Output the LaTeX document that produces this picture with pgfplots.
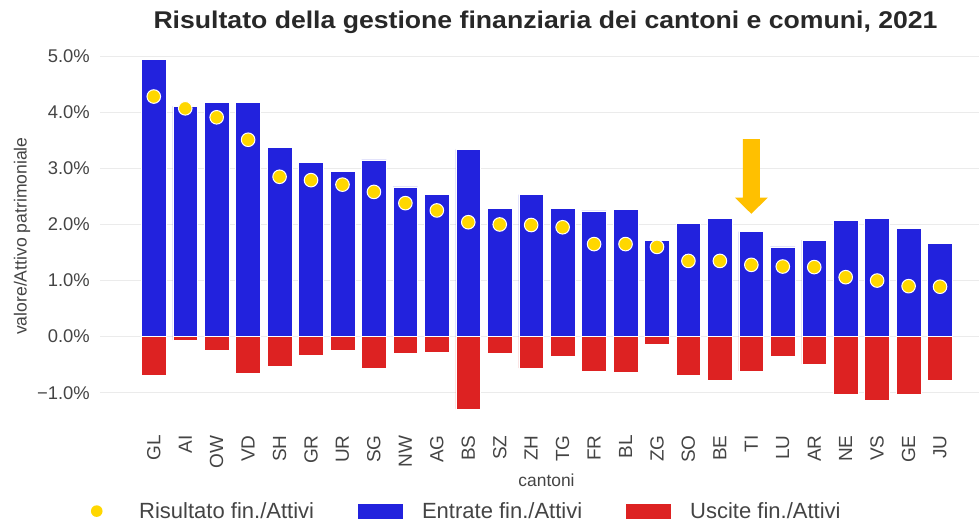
\documentclass[border=0pt]{standalone}
\usepackage{pgfplots}
\pgfplotsset{compat=1.18}
\usepackage{fontspec}
\setmainfont{Liberation Sans}
\newfontfamily\titlefont[FakeStretch=1.1]{Liberation Sans}

\definecolor{barblue}{RGB}{34,34,221}
\definecolor{barred}{RGB}{221,34,34}
\definecolor{dotyellow}{RGB}{255,215,0}
\definecolor{arrowamber}{RGB}{255,192,0}
\definecolor{gridgray}{RGB}{235,235,235}
\definecolor{txtgray}{RGB}{68,68,68}
\definecolor{titlegray}{RGB}{40,40,40}

% values in percent of assets
\pgfplotstableread{
x  entrate uscite risultato
0  4.94  -0.68  4.28
1  4.11  -0.06  4.07
2  4.17  -0.25  3.91
3  4.17  -0.66  3.51
4  3.38  -0.52  2.85
5  3.11  -0.33  2.79
6  2.94  -0.24  2.71
7  3.15  -0.57  2.58
8  2.67  -0.30  2.38
9  2.54  -0.28  2.25
10 3.34  -1.29  2.04
11 2.29  -0.30  2.00
12 2.53  -0.56  1.99
13 2.29  -0.35  1.95
14 2.24  -0.61  1.65
15 2.27  -0.64  1.65
16 1.72  -0.13  1.60
17 2.02  -0.68  1.35
18 2.11  -0.78  1.35
19 1.87  -0.61  1.28
20 1.60  -0.35  1.25
21 1.72  -0.49  1.24
22 2.07  -1.03  1.06
23 2.11  -1.13  1.00
24 1.93  -1.03  0.90
25 1.66  -0.78  0.89
}\datatable

\begin{document}
\begin{tikzpicture}
\begin{axis}[
    x=31.45bp, y=56.1bp,
    xmin=-1.71, xmax=26.24,
    ymin=-1.4, ymax=5.2,
    axis line style={draw=none},
    major tick length=0pt,
    ymajorgrids,
    grid style={color=gridgray, line width=1bp},
    xtick={0,...,25},
    xticklabels={GL,AI,OW,VD,SH,GR,UR,SG,NW,AG,BS,SZ,ZH,TG,FR,BL,ZG,SO,BE,TI,LU,AR,NE,VS,GE,JU},
    ytick={-1,0,1,2,3,4,5},
    yticklabels={−1.0\%,0.0\%,1.0\%,2.0\%,3.0\%,4.0\%,5.0\%},
    xticklabel style={yshift=-20bp, rotate=90, anchor=east, inner sep=0pt,
        font=\fontsize{19bp}{22bp}\selectfont, text=txtgray},
    yticklabel style={anchor=east, inner sep=0pt, xshift=-10bp,
        font=\fontsize{18.4bp}{22bp}\selectfont, text=txtgray},
    title={Risultato della gestione finanziaria dei cantoni e comuni, 2021},
    title style={at={(axis description cs:0.5,1)}, anchor=base, yshift=10bp, xshift=6bp,
        font=\titlefont\bfseries\fontsize{24.2bp}{28bp}\selectfont, text=titlegray, inner sep=0pt},
    xlabel={cantoni},
    xlabel style={at={(axis description cs:0.5,0)}, anchor=base, yshift=-70.8bp, xshift=7bp,
        inner sep=0pt, font=\fontsize{17.4bp}{20bp}\selectfont, text=txtgray},
    ylabel={valore/Attivo patrimoniale},
    ylabel style={at={(axis description cs:-0.0887,0.4838)}, anchor=center,
        inner sep=0pt, font=\fontsize{17.6bp}{20bp}\selectfont, text=txtgray},
    legend style={at={(axis description cs:-0.0284,-0.2590)}, anchor=west,
        draw=none, inner sep=0pt, fill=none,
        font=\fontsize{22bp}{24bp}\selectfont, text=txtgray,
        /tikz/every odd column/.style={column sep=17bp},
        /tikz/every even column/.style={column sep=42bp}},
    legend columns=3,
    legend cell align=left,
    clip=false,
]
\addlegendimage{legend image code/.code={
    \path[draw=none, fill=none] (0bp,-7.5bp) rectangle (45bp,7.5bp);
    \fill[dotyellow, draw=none] (21.5bp,0bp) circle (5.8bp);}}
\addlegendentry{Risultato fin./Attivi}
\addlegendimage{legend image code/.code={
    \fill[barblue, draw=none] (0bp,-7.5bp) rectangle (45bp,7.5bp);}}
\addlegendentry{Entrate fin./Attivi}
\addlegendimage{legend image code/.code={
    \fill[barred, draw=none] (0bp,-7.5bp) rectangle (45bp,7.5bp);}}
\addlegendentry{Uscite fin./Attivi}

\addplot[ybar, bar width=0.785, bar shift=0pt, fill=barblue, draw=white, line width=0.6bp, forget plot]
    table[x=x, y=entrate] {\datatable};
\addplot[ybar, bar width=0.785, bar shift=0pt, fill=barred, draw=white, line width=0.6bp, forget plot]
    table[x=x, y=uscite] {\datatable};
\addplot[only marks, mark=*, mark size=6.8bp, mark options={fill=dotyellow, draw=white, line width=1bp}, forget plot]
    table[x=x, y=risultato] {\datatable};

% arrow pointing at TI
\fill[arrowamber] (axis cs:18.73,3.52) -- (axis cs:19.27,3.52) -- (axis cs:19.27,2.48)
    -- (axis cs:19.525,2.48) -- (axis cs:19,2.19) -- (axis cs:18.475,2.48)
    -- (axis cs:18.73,2.48) -- cycle;

\coordinate (O) at (rel axis cs:0,0);
\end{axis}
\pgfresetboundingbox
\path (O) ++(-100bp,-105.8bp) rectangle ++(979bp,521bp);
\end{tikzpicture}
\end{document}
